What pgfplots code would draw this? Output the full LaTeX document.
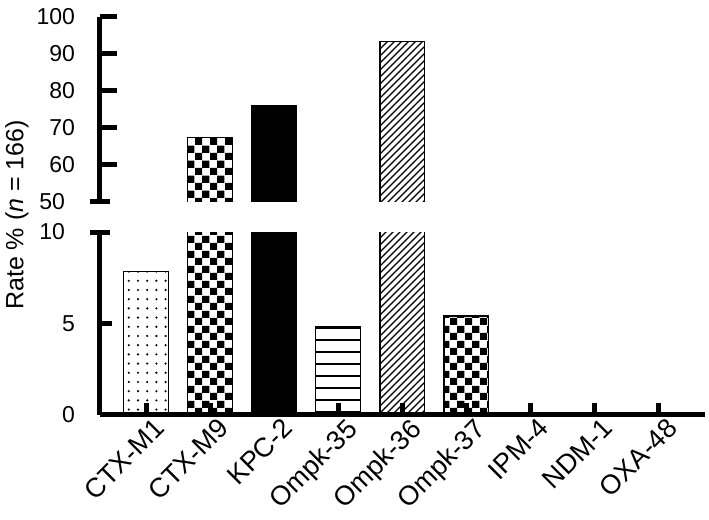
\documentclass[border=0pt]{standalone}
\usepackage{pgfplots}
\pgfplotsset{compat=1.18}
\usepackage{fontspec}
\setmainfont{Liberation Sans}
\usetikzlibrary{patterns}

% fill patterns of the bars
\pgfdeclarepatternformonly{checker}{\pgfpointorigin}{\pgfpoint{7.5pt}{7.5pt}}{\pgfpoint{7.5pt}{7.5pt}}{%
  \pgfpathrectangle{\pgfpointorigin}{\pgfpoint{3.75pt}{3.75pt}}%
  \pgfpathrectangle{\pgfpoint{3.75pt}{3.75pt}}{\pgfpoint{3.75pt}{3.75pt}}%
  \pgfusepath{fill}}
\pgfdeclarepatternformonly{sparsedots}{\pgfpoint{-1pt}{-1pt}}{\pgfpoint{1pt}{1pt}}{\pgfpoint{4.6pt}{4.6pt}}{%
  \pgfpathcircle{\pgfpointorigin}{0.6pt}\pgfusepath{fill}}
\pgfdeclarepatternformonly{hlinesw}{\pgfpoint{-0.5pt}{-0.5pt}}{\pgfpoint{6.5pt}{6.5pt}}{\pgfpoint{6pt}{6pt}}{%
  \pgfsetlinewidth{0.7pt}\pgfpathmoveto{\pgfpoint{-0.5pt}{0pt}}\pgfpathlineto{\pgfpoint{6.5pt}{0pt}}\pgfusepath{stroke}}
\pgfdeclarepatternformonly{nelines}{\pgfpoint{-0.5pt}{-0.5pt}}{\pgfpoint{4pt}{4pt}}{\pgfpoint{3.5pt}{3.5pt}}{%
  \pgfsetlinewidth{0.6pt}\pgfpathmoveto{\pgfpoint{0pt}{0pt}}\pgfpathlineto{\pgfpoint{3.6pt}{3.6pt}}\pgfusepath{stroke}}

\pgfplotsset{
  brk/.style={
    scale only axis, width=302.5pt,
    xmin=-0.72, xmax=8.73,
    ybar, bar width=0.7,
    every axis plot/.append style={bar shift=0pt},
    axis on top,
    axis y line*=left,
    axis line style={line width=2.5pt},
    tick style={line width=2.5pt, black},
    tick align=inside,
    yticklabel style={font=\fontsize{11.5}{13}\selectfont, xshift=-9pt},
    /pgf/number format/assume math mode=true,
  },
  bb/.style={draw=black, line width=0.75pt},
  edge/.style={sharp plot, black, line width=0.75pt},
}

\begin{document}
\begin{tikzpicture}
\path[use as bounding box] (-50pt,-52.5pt) rectangle (304.5pt,207.5pt);

% lower part 0-10 (counts out of n = 166)
\begin{axis}[brk, height=91.5pt,
  ymin=0, ymax=10,
  axis x line*=bottom,
  major tick length=6pt,
  ytick={0,5},
  extra y ticks={10},
  extra y tick style={tick align=center, major tick length=10pt},
  xtick={0,...,8},
  xticklabels={CTX-M1,CTX-M9,KPC-2,Ompk-35,Ompk-36,Ompk-37,IPM-4,NDM-1,OXA-48},
  xticklabel style={font=\fontsize{13.5}{16}\selectfont, rotate=45, anchor=north east,
    inner sep=2pt, xshift=4pt, yshift=-1pt},
]
\addplot[bb, pattern=sparsedots] coordinates {(0,7.83)};
\addplot[bb, pattern=checker] coordinates {(1,67.47)};
\addplot[bb, fill=black] coordinates {(2,75.90)};
\addplot[bb, pattern=hlinesw] coordinates {(3,4.82)};
\addplot[bb, pattern=nelines] coordinates {(4,93.37)};
\addplot[bb, pattern=checker] coordinates {(5,5.42)};
\addplot[draw=none] coordinates {(6,0) (7,0) (8,0)};
\end{axis}

% upper part 50-100
\begin{axis}[brk, height=92.5pt,
  at={(0,106.5pt)}, anchor=south west,
  ymin=50, ymax=100,
  axis x line=none,
  major tick length=8.5pt,
  ytick={60,70,...,100},
  extra y ticks={50},
  extra y tick style={tick align=center, major tick length=10pt},
]
\addplot[draw=none, pattern=checker] coordinates {(1,67.47)};
\addplot[draw=none, fill=black] coordinates {(2,75.90)};
\addplot[draw=none, pattern=nelines] coordinates {(4,93.37)};
% bar outlines: sides and top only, the base lies below the break
\addplot[edge] coordinates {(0.65,40) (0.65,67.47) (1.35,67.47) (1.35,40)};
\addplot[edge] coordinates {(1.65,40) (1.65,75.90) (2.35,75.90) (2.35,40)};
\addplot[edge] coordinates {(3.65,40) (3.65,93.37) (4.35,93.37) (4.35,40)};
\end{axis}

\node[rotate=90, font=\fontsize{12.5}{14}\selectfont] at (-41.5pt,100pt) {Rate \% (\textit{n} = 166)};
\end{tikzpicture}
\end{document}
